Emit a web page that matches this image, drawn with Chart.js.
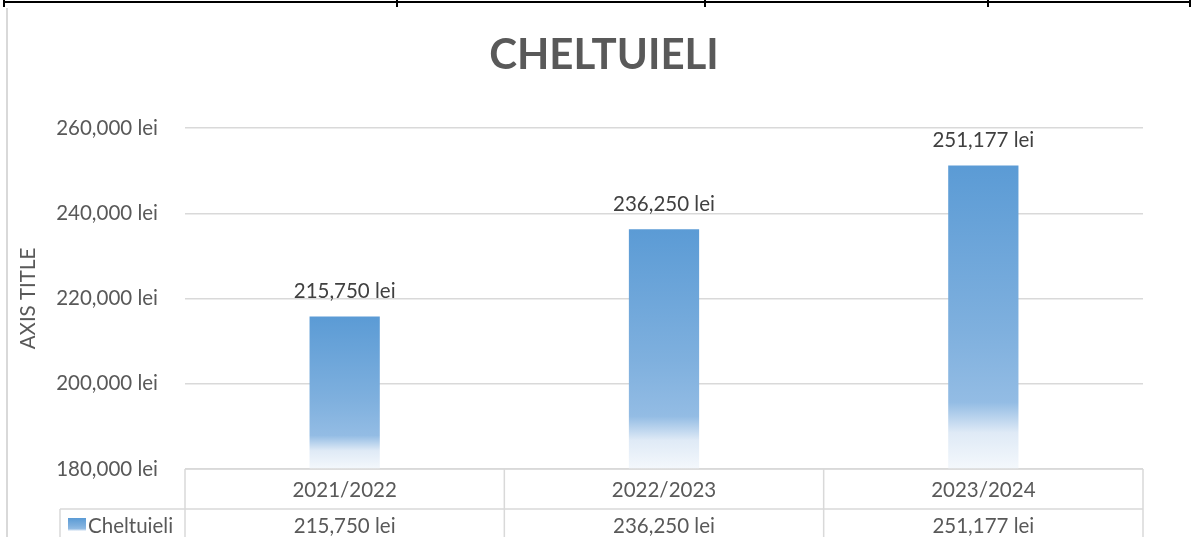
<!DOCTYPE html>
<html lang="ro">
<head>
<meta charset="UTF-8">
<title>Cheltuieli</title>
<style>
  html,body{margin:0;padding:0;background:#fff;}
  #wrap{position:relative;width:1195px;height:537px;}
</style>
</head>
<body>
<div id="wrap"><canvas id="chart" width="1195" height="537"></canvas></div>
<script src="https://cdn.jsdelivr.net/npm/chart.js"></script>
<script>
const categories = ['2021/2022', '2022/2023', '2023/2024']
const seriesName = 'Cheltuieli'
const values = [215750, 236250, 251177]
const yMin = 180000
const yMax = 260000
const yStep = 20000

const FONT = 'Lato, "Open Sans", sans-serif'
const FS = 20.5
const TXT = '#595959'
const GRID = '#d9d9d9'

const fmt = v => v.toLocaleString('en-US') + ' lei'

function barGradient(ctx, top, bottom) {
  const g = ctx.createLinearGradient(0, top, 0, bottom)
  g.addColorStop(0, '#5b9bd5')
  g.addColorStop(0.55, '#7fb0de')
  g.addColorStop(0.78, '#93bce4')
  g.addColorStop(0.88, '#dfeaf6')
  g.addColorStop(1, '#f4f8fc')
  return g
}

const extras = {
  id: 'extras',
  afterDatasetsDraw(chart) {
    const c = chart.ctx
    const meta = chart.getDatasetMeta(0)
    c.save()
    c.font = FS + 'px ' + FONT
    c.fillStyle = '#404040'
    c.textAlign = 'center'
    c.textBaseline = 'middle'
    meta.data.forEach((bar, i) => {
      c.fillText(fmt(values[i]), bar.x, bar.y - 25)
    })
    c.restore()
  },
  afterDraw(chart) {
    const c = chart.ctx
    const a = chart.chartArea
    const x = chart.scales.x
    c.save()
    // page border bits
    c.strokeStyle = '#000'
    c.lineWidth = 2
    c.beginPath()
    c.moveTo(4, 2); c.lineTo(1191, 2)
    ;[4, 397, 705, 988, 1190].forEach(px => { c.moveTo(px, 0); c.lineTo(px, 7) })
    c.stroke()
    c.strokeStyle = GRID
    c.lineWidth = 2
    c.beginPath(); c.moveTo(7, 8); c.lineTo(7, 537); c.stroke()

    // data table
    const half = (x.getPixelForValue(1) - x.getPixelForValue(0)) / 2
    const row1 = a.bottom + 40
    const legendLeft = 60
    c.lineWidth = 1.5
    c.beginPath()
    c.moveTo(a.left, a.bottom); c.lineTo(a.right, a.bottom)
    c.moveTo(legendLeft, row1); c.lineTo(a.right, row1)
    c.moveTo(legendLeft, row1); c.lineTo(legendLeft, 537)
    for (let i = 0; i <= categories.length; i++) {
      const px = x.getPixelForValue(0) - half + i * 2 * half
      c.moveTo(px, a.bottom); c.lineTo(px, 537)
    }
    c.stroke()

    c.font = FS + 'px ' + FONT
    c.fillStyle = TXT
    c.textAlign = 'center'
    c.textBaseline = 'middle'
    categories.forEach((cat, i) => {
      const px = x.getPixelForValue(i)
      c.fillText(cat, px, a.bottom + 21)
      c.fillText(fmt(values[i]), px, row1 + 17)
    })
    // legend key
    c.fillStyle = barGradient(c, 518, 532)
    c.fillRect(68, 518, 18, 13)
    c.fillStyle = TXT
    c.textAlign = 'left'
    c.fillText(seriesName, 88, row1 + 17)
    c.restore()
  }
}

new Chart(document.getElementById('chart'), {
  type: 'bar',
  data: {
    labels: categories,
    datasets: [{
      label: seriesName,
      data: values,
      barPercentage: 0.22,
      categoryPercentage: 1,
      backgroundColor(context) {
        const chart = context.chart
        if (!chart.chartArea || context.parsed == null) return '#5b9bd5'
        const y = chart.scales.y
        return barGradient(chart.ctx, y.getPixelForValue(context.parsed.y), y.getPixelForValue(yMin))
      }
    }]
  },
  options: {
    responsive: false,
    animation: false,
    layout: { padding: { top: 128, right: 52, bottom: 68, left: 0 } },
    plugins: {
      legend: { display: false },
      tooltip: { enabled: false },
      title: { display: false }
    },
    scales: {
      x: { display: false },
      y: {
        min: yMin,
        max: yMax,
        afterFit(scale) { scale.width = 185 },
        border: { display: false },
        grid: { color: GRID, lineWidth: 1.5, drawTicks: false },
        ticks: {
          stepSize: yStep,
          padding: 27,
          color: TXT,
          font: { family: FONT, size: FS },
          callback: v => fmt(v)
        },
        title: {
          display: true,
          text: 'AXIS TITLE',
          color: TXT,
          font: { family: FONT, size: FS },
          padding: { top: 16, bottom: 0 }
        }
      }
    }
  },
  plugins: [extras, {
    id: 'bigTitle',
    afterDraw(chart) {
      const c = chart.ctx
      c.save()
      c.font = 'bold 42px ' + FONT
      c.fillStyle = TXT
      c.textAlign = 'center'
      c.textBaseline = 'middle'
      c.fillText('CHELTUIELI', 604, 55)
      c.restore()
    }
  }]
})
</script>
</body>
</html>
